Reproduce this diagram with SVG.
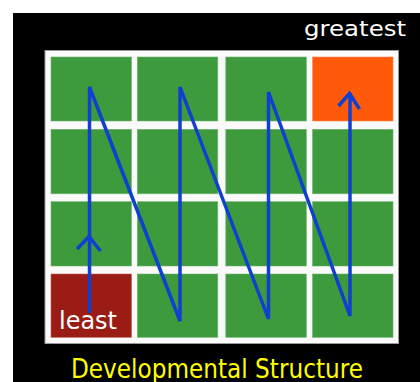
<svg xmlns="http://www.w3.org/2000/svg" width="420" height="382" viewBox="0 0 420 382">
  <style>
    .cell { fill: #3d9b3d; stroke: #6fb56f; stroke-width: 0.6; }
    .path { fill: none; stroke: #1040d0; stroke-width: 3.5; stroke-linejoin: miter; stroke-linecap: butt; }
    .label { font-family: "DejaVu Sans", "Liberation Sans", sans-serif; }
  </style>
  <!-- backdrop -->
  <rect x="0" y="0" width="420" height="382" fill="#ffffff"/>
  <rect x="13" y="13" width="407" height="369" fill="#000000"/>
  <!-- grid frame -->
  <rect x="45" y="50.5" width="353.5" height="293" fill="#fafafa" stroke="#9a9a9a" stroke-width="1"/>

  <!-- row 1 -->
  <g id="cell-r1c1"><rect class="cell" x="51" y="57" width="80.5" height="64"/></g>
  <g id="cell-r1c2"><rect class="cell" x="137.3" y="57" width="80.5" height="64"/></g>
  <g id="cell-r1c3"><rect class="cell" x="225.8" y="57" width="80.5" height="64"/></g>
  <g id="cell-r1c4"><rect x="312.5" y="57" width="80.5" height="64" fill="#ff5a0a" stroke="#ff8a50" stroke-width="0.6"/></g>
  <!-- row 2 -->
  <g id="cell-r2c1"><rect class="cell" x="51" y="129.3" width="80.5" height="64.5"/></g>
  <g id="cell-r2c2"><rect class="cell" x="137.3" y="129.3" width="80.5" height="64.5"/></g>
  <g id="cell-r2c3"><rect class="cell" x="225.8" y="129.3" width="80.5" height="64.5"/></g>
  <g id="cell-r2c4"><rect class="cell" x="312.5" y="129.3" width="80.5" height="64.5"/></g>
  <!-- row 3 -->
  <g id="cell-r3c1"><rect class="cell" x="51" y="201.7" width="80.5" height="64.3"/></g>
  <g id="cell-r3c2"><rect class="cell" x="137.3" y="201.7" width="80.5" height="64.3"/></g>
  <g id="cell-r3c3"><rect class="cell" x="225.8" y="201.7" width="80.5" height="64.3"/></g>
  <g id="cell-r3c4"><rect class="cell" x="312.5" y="201.7" width="80.5" height="64.3"/></g>
  <!-- row 4 -->
  <g id="cell-r4c1"><rect x="51" y="274" width="80.5" height="63.3" fill="#9b1c14" stroke="#c06058" stroke-width="0.6"/></g>
  <g id="cell-r4c2"><rect class="cell" x="137.3" y="274" width="80.5" height="63.3"/></g>
  <g id="cell-r4c3"><rect class="cell" x="225.8" y="274" width="80.5" height="63.3"/></g>
  <g id="cell-r4c4"><rect class="cell" x="312.5" y="274" width="80.5" height="63.3"/></g>

  <!-- labels -->
  <g id="label-greatest">
    <text class="label" x="304" y="35.5" font-size="22" fill="#ffffff" textLength="102" lengthAdjust="spacingAndGlyphs">greatest</text>
  </g>
  <g id="label-least">
    <text class="label" x="59" y="328.5" font-size="25" fill="#ffffff" textLength="58" lengthAdjust="spacingAndGlyphs">least</text>
  </g>
  <g id="title">
    <text class="label" x="71" y="377.5" font-size="27" fill="#ffff00" textLength="292" lengthAdjust="spacingAndGlyphs">Developmental Structure</text>
  </g>

  <!-- developmental path -->
  <g id="connectors">
    <polyline class="path" points="89.5,313 89.5,87 180,321 180,87 268.5,319 268.5,92 350,316 350,93"/>
    <polyline class="path" points="77,249 89,236.5 100.5,251"/>
    <polyline class="path" points="338.5,106 349.5,93.5 359.5,109"/>
  </g>
</svg>
